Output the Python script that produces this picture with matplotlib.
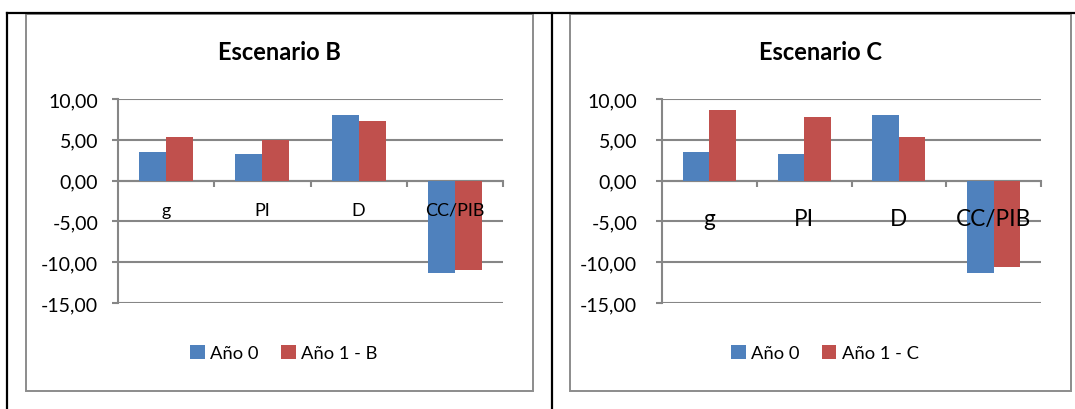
import matplotlib.pyplot as plt
import matplotlib.transforms as mtransforms
import numpy as np
from matplotlib.patches import Rectangle
from matplotlib.lines import Line2D
from matplotlib.ticker import FuncFormatter

plt.rcParams['font.family'] = ['Lato', 'DejaVu Sans']

categories = ['g', 'PI', 'D', 'CC/PIB']
anio0 = [3.5, 3.2, 8.1, -11.35]
anio1_b = [5.4, 5.0, 7.25, -10.9]
anio1_c = [8.65, 7.75, 5.3, -10.6]
y_ticks = [-15, -10, -5, 0, 5, 10]

BLUE = '#4F81BD'
RED = '#C0504D'
GRID = '#868686'
W, H = 1075, 410

fig = plt.figure(figsize=(W / 100, H / 100), dpi=100)


def box(x0, y0, x1, y1):
    # pixel box measured from the top-left corner -> figure fraction rect
    return [x0 / W, 1 - y1 / H, (x1 - x0) / W, (y1 - y0) / H]


def comma_fmt(v, pos):
    return f'{v:.2f}'.replace('.', ',')


def draw_panel(frame, plot, title, serie1, label1, label_size, label_drop, ytick_pad):
    # gray chart frame
    fx0, fy0, fx1, fy1 = frame
    fig.patches.append(Rectangle((fx0 / W, 1 - fy1 / H), (fx1 - fx0) / W, (fy1 - fy0) / H,
                                 transform=fig.transFigure, fill=False,
                                 edgecolor='#8C8C8C', linewidth=1.4))
    cx = (fx0 + fx1) / 2 / W
    fig.text(cx, 1 - 52 / H, title, ha='center', va='center',
             fontsize=17, fontweight='bold')

    ax = fig.add_axes(box(*plot))
    x = np.arange(len(categories))
    w = 0.28
    b0 = ax.bar(x - w / 2, anio0, w, color=BLUE, zorder=3, label='Año 0')
    b1 = ax.bar(x + w / 2, serie1, w, color=RED, zorder=3, label=label1)

    ax.set_xlim(-0.5, len(categories) - 0.5)
    ax.set_ylim(-15, 10)
    ax.set_yticks(y_ticks)
    ax.yaxis.set_major_formatter(FuncFormatter(comma_fmt))
    ax.grid(axis='y', color=GRID, linewidth=1.5, zorder=0)
    ax.set_axisbelow(True)

    for s in ['top', 'right']:
        ax.spines[s].set_visible(False)
    ax.spines['left'].set_color(GRID)
    ax.spines['left'].set_linewidth(1.5)
    ax.spines['bottom'].set_position(('data', 0))
    ax.spines['bottom'].set_color(GRID)
    ax.spines['bottom'].set_linewidth(1.5)

    ax.set_xticks(np.arange(len(categories)) + 0.5)
    ax.set_xticklabels([])
    ax.tick_params(axis='x', direction='out', length=4.3, width=1.5, color=GRID)
    ax.tick_params(axis='y', direction='out', length=4.3, width=1.5, color=GRID,
                   labelsize=14, pad=ytick_pad)

    trans = mtransforms.offset_copy(ax.transData, fig=fig, y=-label_drop, units='dots')
    for i, c in enumerate(categories):
        ax.text(i, 0, c, transform=trans, ha='center', va='baseline',
                fontsize=label_size, zorder=5)

    fig.legend([b0, b1], ['Año 0', label1], loc='center',
               bbox_to_anchor=(cx + 0.004, 1 - 354 / H), ncol=2, frameon=False,
               fontsize=13.2, handlelength=0.8, handleheight=0.8,
               handletextpad=0.3, columnspacing=1.2, borderpad=0)
    return ax


draw_panel((26, 15, 533, 392), (118, 100, 503, 304), 'Escenario B',
           anio1_b, 'Año 1 - B', 13, 34, 10)
draw_panel((570, 15, 1071, 392), (662, 100, 1041, 304), 'Escenario C',
           anio1_c, 'Año 1 - C', 16.3, 44, 13.5)

# black table borders around the two charts
for x0, y0, x1, y1 in [(7, 14, 1075, 14), (7, 14, 7, 410), (552, 14, 552, 410)]:
    fig.add_artist(Line2D([x0 / W, x1 / W], [1 - y0 / H, 1 - y1 / H],
                          transform=fig.transFigure, color='black', linewidth=1.6))

fig.savefig('out.png', dpi=100)
